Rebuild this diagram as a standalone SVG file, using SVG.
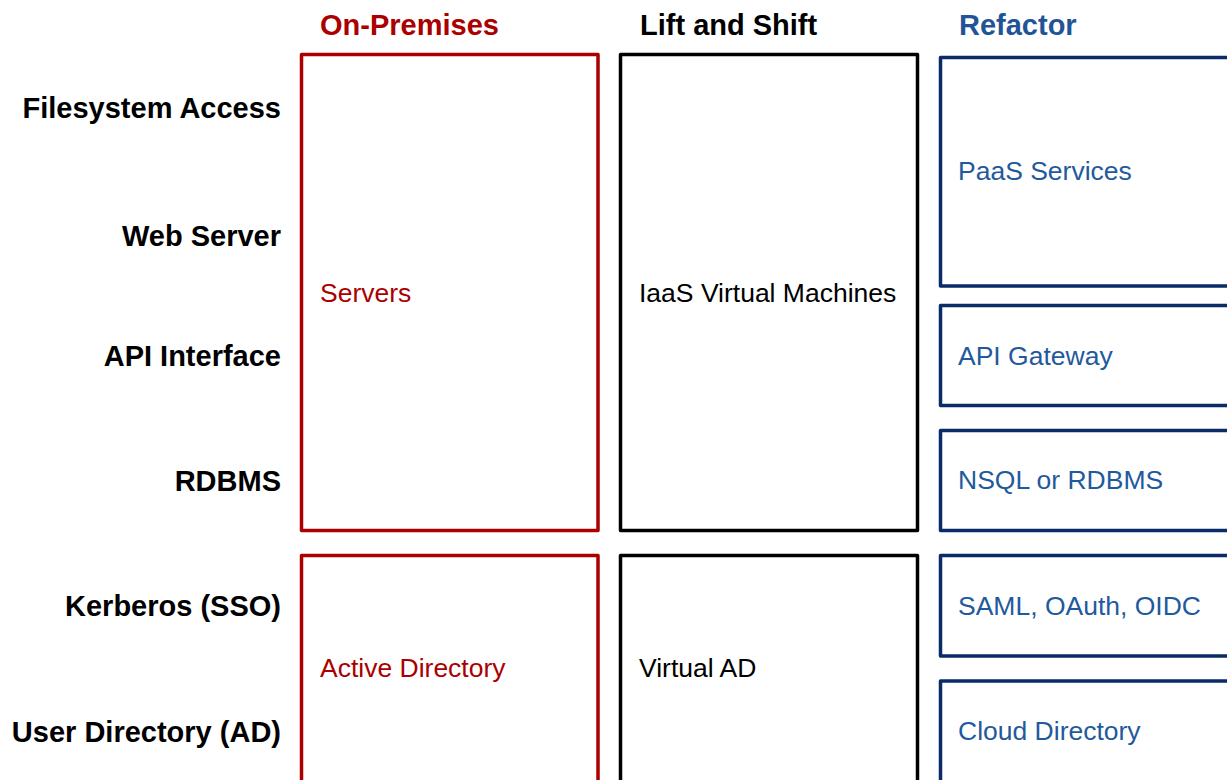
<svg xmlns="http://www.w3.org/2000/svg" width="1227" height="780" viewBox="0 0 1227 780">
  <style>
    text { font-family: "Liberation Sans", Arial, sans-serif; }
    .head { font-size: 29px; font-weight: bold; }
    .row { font-size: 29px; font-weight: bold; fill: #000; text-anchor: end; }
    .lbl { font-size: 26.5px; }
    .box { fill: #fff; stroke-width: 3.5; stroke-linejoin: round; }
    .onprem .box { stroke: #AA0000; }
    .onprem text { fill: #AA0000; }
    .lift .box { stroke: #000; }
    .lift text { fill: #000; }
    .refac .box { stroke: #0A2A68; }
    .refac text { fill: #1F5A9C; }
  </style>
  <rect width="1227" height="780" fill="#fff"/>

  <!-- column headers -->
  <g id="headers">
    <text class="head" x="320" y="35" fill="#AA0000">On-Premises</text>
    <text class="head" x="640" y="35" fill="#000">Lift and Shift</text>
    <text class="head" x="959" y="35" fill="#1F5597">Refactor</text>
  </g>

  <!-- row labels -->
  <g id="rows">
    <text class="row" x="281" y="118">Filesystem Access</text>
    <text class="row" x="281" y="246">Web Server</text>
    <text class="row" x="281" y="366">API Interface</text>
    <text class="row" x="281" y="491">RDBMS</text>
    <text class="row" x="281" y="616">Kerberos (SSO)</text>
    <text class="row" x="281" y="742">User Directory (AD)</text>
  </g>

  <!-- on-premises column -->
  <g id="servers" class="onprem">
    <rect class="box" x="301.5" y="54.5" width="296.5" height="476"/>
    <text class="lbl" x="320" y="302">Servers</text>
  </g>
  <g id="active-directory" class="onprem">
    <rect class="box" x="301.5" y="555.5" width="296.5" height="240"/>
    <text class="lbl" x="320" y="677">Active Directory</text>
  </g>

  <!-- lift and shift column -->
  <g id="iaas-vms" class="lift">
    <rect class="box" x="620.5" y="54.5" width="297" height="476"/>
    <text class="lbl" x="639" y="302">IaaS Virtual Machines</text>
  </g>
  <g id="virtual-ad" class="lift">
    <rect class="box" x="620.5" y="555.5" width="297" height="240"/>
    <text class="lbl" x="639" y="677">Virtual AD</text>
  </g>

  <!-- refactor column -->
  <g id="paas" class="refac">
    <rect class="box" x="940.5" y="57.5" width="300" height="228.5"/>
    <text class="lbl" x="958" y="180">PaaS Services</text>
  </g>
  <g id="api-gateway" class="refac">
    <rect class="box" x="940.5" y="305.5" width="300" height="100"/>
    <text class="lbl" x="958" y="365">API Gateway</text>
  </g>
  <g id="nosql" class="refac">
    <rect class="box" x="940.5" y="430.5" width="300" height="100"/>
    <text class="lbl" x="958" y="489">NSQL or RDBMS</text>
  </g>
  <g id="identity" class="refac">
    <rect class="box" x="940.5" y="555.5" width="300" height="100.5"/>
    <text class="lbl" x="958" y="615">SAML, OAuth, OIDC</text>
  </g>
  <g id="cloud-directory" class="refac">
    <rect class="box" x="940.5" y="681" width="300" height="120"/>
    <text class="lbl" x="958" y="740">Cloud Directory</text>
  </g>

  <g id="connectors"/>
</svg>
